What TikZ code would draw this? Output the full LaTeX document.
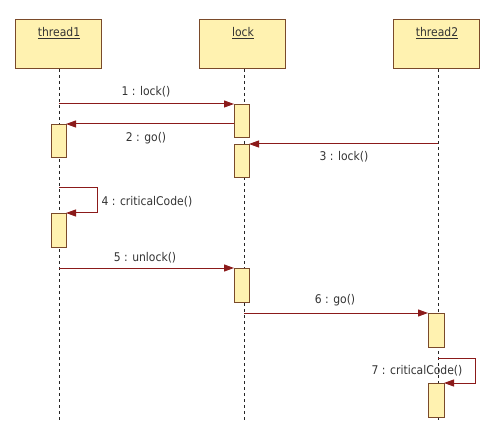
\documentclass[tikz,border=0pt]{standalone}
\usepackage{fontspec}
\setmainfont{DejaVu Sans Condensed}
\usetikzlibrary{arrows.meta}
\definecolor{boxfill}{HTML}{FFF2B0}
\definecolor{boxline}{HTML}{7A4A2A}
\definecolor{msg}{HTML}{8B1A1A}
\begin{document}
\begin{tikzpicture}[x=1pt,y=-1pt,
  obj/.style={draw=boxline,fill=boxfill,line width=1pt,minimum width=86pt,minimum height=49pt,anchor=north west,inner sep=0pt},
  objlabel/.style={font=\fontsize{12}{14}\selectfont,text=black!80},
  actbox/.style={draw=boxline,fill=boxfill,line width=0.9pt},
  life/.style={dash pattern=on 3pt off 3pt,line width=0.7pt,black!85},
  msgline/.style={draw=msg,line width=1pt,-{Triangle[length=10pt,width=7pt]}},
  lbl/.style={font=\fontsize{12}{14}\selectfont,text=black!80}
]
\useasboundingbox (0,0) rectangle (484,446);
% objects
\node[obj] (t1) at (15,19) {};
\node[objlabel] at (59,33) {\underline{thread1}};
\node[obj] (lk) at (199,19) {};
\node[objlabel] at (243,33) {\underline{lock}};
\node[obj] (t2) at (393,19) {};
\node[objlabel] at (437,33) {\underline{thread2}};
% lifelines
\coordinate (t1e) at (59,422);
\coordinate (lke) at (244,422);
\coordinate (t2e) at (438,422);
\draw[life] (t1.south -| t1e) -- (t1e);
\draw[life] (lk.south -| lke) -- (lke);
\draw[life] (t2.south -| t2e) -- (t2e);
% activations
\draw[actbox] (234,104) rectangle (249,137);
\coordinate (l1tl) at (234,104);
\draw[actbox] (51,124) rectangle (66,157);
\coordinate (a1) at (66,124);
\draw[actbox] (234,144) rectangle (249,177);
\coordinate (l2) at (249,144);
\draw[actbox] (51,213) rectangle (66,247);
\coordinate (a2) at (66,213);
\draw[actbox] (234,268) rectangle (249,302);
\coordinate (l3) at (234,268);
\draw[actbox] (428,313) rectangle (444,347);
\coordinate (b1) at (428,313);
\draw[actbox] (428,383) rectangle (444,417);
\coordinate (b2) at (444,383);
% message coordinates
\coordinate (m1s) at (59,104);
\coordinate (m2s) at (234,124);
\coordinate (m3s) at (438,144);
\coordinate (m4s) at (59,188);
\coordinate (m4a) at (97,188);
\coordinate (m4b) at (97,213);
\coordinate (m5s) at (59,268);
\coordinate (m6s) at (244,313);
\coordinate (m7s) at (438,358);
\coordinate (m7a) at (475,358);
\coordinate (m7b) at (475,383);
% messages
\draw[msgline] (m1s) -- (l1tl);
\node[lbl] at (146,92) {1 : lock()};
\draw[msgline] (m2s) -- (a1);
\node[lbl] at (146,138) {2 : go()};
\draw[msgline] (m3s) -- (l2);
\node[lbl] at (344,157) {3 : lock()};
\draw[msgline] (m4s) -- (m4a) -- (m4b) -- (a2);
\node[lbl,anchor=west] at (98,202) {4 : criticalCode()};
\draw[msgline] (m5s) -- (l3);
\node[lbl] at (145,258) {5 : unlock()};
\draw[msgline] (m6s) -- (b1);
\node[lbl] at (335,300) {6 : go()};
\draw[msgline] (m7s) -- (m7a) -- (m7b) -- (b2);
\node[lbl] at (417,371) {7 : criticalCode()};
\end{tikzpicture}
\end{document}
